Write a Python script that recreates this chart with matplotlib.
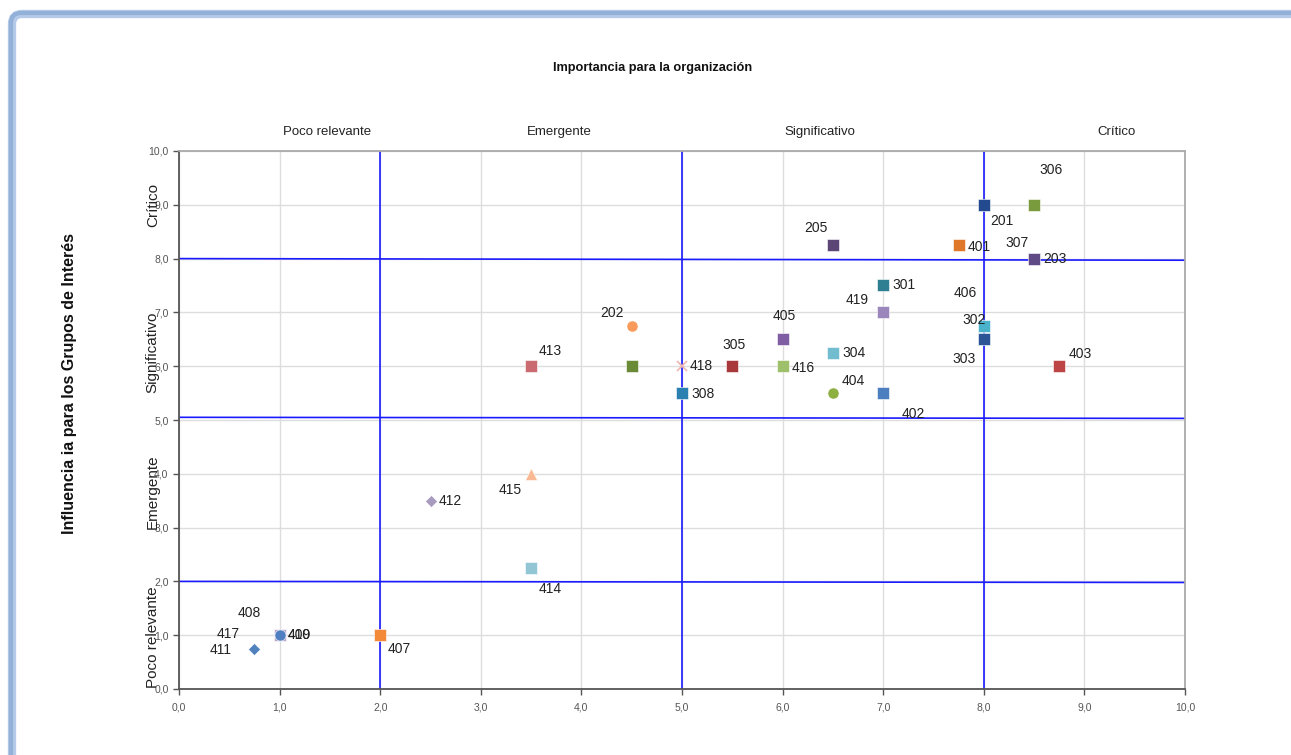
import matplotlib
matplotlib.use("Agg")
import matplotlib.pyplot as plt
from matplotlib.patches import FancyBboxPatch
from matplotlib.transforms import IdentityTransform
from matplotlib.ticker import FuncFormatter, MultipleLocator

plt.rcParams['font.family'] = ['Liberation Sans', 'DejaVu Sans']

# materiality points: code, importance (x), influence (y)
codes = ['201', '306', '205', '401', '203', '301', '419', '302', '303', '403',
         '405', '304', '416', '404', '402', '305', '418', '308', '202', '',
         '413', '412', '415', '414', '407', '410', '409', '411']
importance = [8.0, 8.5, 6.5, 7.75, 8.5, 7.0, 7.0, 8.0, 8.0, 8.75,
              6.0, 6.5, 6.0, 6.5, 7.0, 5.5, 5.0, 5.0, 4.5, 4.5,
              3.5, 2.5, 3.5, 3.5, 2.0, 1.0, 1.0, 0.75]
influence = [9.0, 9.0, 8.25, 8.25, 8.0, 7.5, 7.0, 6.75, 6.5, 6.0,
             6.5, 6.25, 6.0, 5.5, 5.5, 6.0, 6.0, 5.5, 6.75, 6.0,
             6.0, 3.5, 4.0, 2.25, 1.0, 1.0, 1.0, 0.75]
markers = ['s', 's', 's', 's', 's', 's', 's', 's', 's', 's',
           's', 's', 's', 'o', 's', 's', 'x', 's', 'o', 's',
           's', 'D', '^', 's', 's', 's', 'o', 'D']
colors = ['#23498f', '#7a9a3e', '#5b4676', '#e0782c', '#604a86', '#2f7f92',
          '#9a86bb', '#4bb2cc', '#2c5596', '#bd4545',
          '#7f5ea3', '#72bccf', '#9fc06a', '#8db040', '#4c7fbf', '#a8383a',
          '#f0b4b0', '#2a80b0', '#f79a5a', '#6b8a36',
          '#c96b70', '#a99bbd', '#f9b994', '#93c6d4', '#f28a3a', '#b8a6cc',
          '#4f7fc0', '#4f81bd']
# label offsets in points (dx, dy) from each marker
label_dx = [13, 12, -12, 15, 15, 15, -19, -7, -14, 15,
            1, 15, 15, 15, 22, 1, 14, 15, -14, 0,
            14, 14, -15, 14, 14, 14, 14, -24]
label_dy = [-12, 25, 12, -1, 0, 0, 9, 4, -14, 9,
            17, 0, -1, 9, -15, 15, 0, -1, 9, 0,
            11, 0, -12, -15, -10, 0, 0, -1]

# labels whose markers are hidden under another point
extra_codes = ['307', '406', '408', '417']
extra_x = [8.5, 8.0, 1.0, 1.0]
extra_y = [8.0, 6.75, 1.0, 1.0]
extra_dx = [-12, -13, -22, -37]
extra_dy = [11, 24, 16, 1]

# quadrant dividers
v_lines = [2.0, 5.0, 8.0]
h_start = [8.0, 5.05, 2.0]
h_end = [7.97, 5.03, 1.98]

top_cats = ['Poco relevante', 'Emergente', 'Significativo', 'Crítico']
top_pos = [1.47, 3.78, 6.37, 9.32]
left_cats = ['Crítico', 'Significativo', 'Emergente', 'Poco relevante']
left_pos = [9.0, 6.26, 3.66, 0.97]

fig = plt.figure(figsize=(12.91, 7.55), dpi=100)

# blue rounded frame around the chart
frame = FancyBboxPatch((12, -60), 1400, 801, boxstyle='round,pad=0,rounding_size=10',
                       transform=IdentityTransform(), facecolor='none',
                       edgecolor='#b4cae8', linewidth=6, zorder=-1)
fig.patches.append(frame)
frame2 = FancyBboxPatch((11, -60), 1400, 802, boxstyle='round,pad=0,rounding_size=10',
                        transform=IdentityTransform(), facecolor='none',
                        edgecolor='#93b0d8', linewidth=3, zorder=-1)
fig.patches.append(frame2)

ax = fig.add_axes([179 / 1291, 66 / 755, 1006 / 1291, 538 / 755])
ax.set_xlim(0, 10)
ax.set_ylim(0, 10)
ax.xaxis.set_major_locator(MultipleLocator(1))
ax.yaxis.set_major_locator(MultipleLocator(1))
fmt = FuncFormatter(lambda v, p: f'{v:.1f}'.replace('.', ','))
ax.xaxis.set_major_formatter(fmt)
ax.yaxis.set_major_formatter(fmt)
ax.tick_params(labelsize=7.5, colors='#555555', length=4, width=1)
ax.tick_params(axis='x', pad=6)
ax.grid(True, color='#dddddd', linewidth=1)
ax.set_axisbelow(True)
for side in ['left', 'bottom']:
    ax.spines[side].set_color('#555555')
    ax.spines[side].set_linewidth(1.3)
for side in ['top', 'right']:
    ax.spines[side].set_color('#aaaaaa')
    ax.spines[side].set_linewidth(1.3)

for xv in v_lines:
    ax.plot([xv, xv], [0, 10], color='#1a1aff', linewidth=1.2, zorder=2)
for y0, y1 in zip(h_start, h_end):
    ax.plot([0, 10], [y0, y1], color='#1a1aff', linewidth=1.2, zorder=2)

for i in range(len(codes)):
    if markers[i] == 'x':
        ax.plot(importance[i], influence[i], marker='x', color=colors[i],
                markersize=7, markeredgewidth=1.2, linestyle='none', zorder=3)
    else:
        ms = 9 if markers[i] == 's' else 8
        if markers[i] == 'D':
            ms = 6
        ax.plot(importance[i], influence[i], marker=markers[i], color=colors[i],
                markersize=ms, markeredgecolor='white', markeredgewidth=0.4,
                linestyle='none', zorder=3)
    if codes[i]:
        ax.annotate(codes[i], (importance[i], influence[i]),
                    xytext=(label_dx[i], label_dy[i]), textcoords='offset points',
                    ha='center', va='center', fontsize=10, color='#222222', zorder=4)

for i in range(len(extra_codes)):
    ax.annotate(extra_codes[i], (extra_x[i], extra_y[i]),
                xytext=(extra_dx[i], extra_dy[i]), textcoords='offset points',
                ha='center', va='center', fontsize=10, color='#222222', zorder=4)

for lab, pos in zip(top_cats, top_pos):
    ax.text(pos, 10.25, lab, ha='center', va='bottom', fontsize=9.5, color='#222222',
            clip_on=False)

for lab, pos in zip(left_cats, left_pos):
    ax.text(-0.26, pos, lab, ha='center', va='center', rotation=90, fontsize=11,
            color='#222222', clip_on=False)

fig.text(653 / 1291, 1 - 68 / 755, 'Importancia para la organización', ha='center',
         va='center', fontsize=9.2, fontweight='bold', color='#111111')
fig.text(70 / 1291, 1 - 383 / 755, 'Influencia ia para los Grupos de Interés',
         ha='center', va='center', rotation=90, fontsize=11.5, fontweight='bold',
         color='#111111')

fig.savefig('out.png', dpi=100)
